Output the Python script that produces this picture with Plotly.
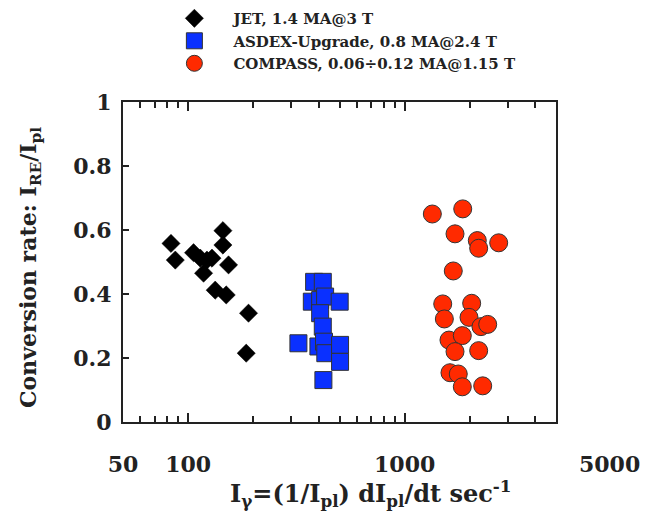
import plotly.graph_objects as go

# JET, 1.4 MA@3 T
jet_x = [83.3, 87.2, 105.9, 113.7, 122.1, 128.8, 117.8, 144.7, 144.7, 153.6, 133.3, 149.9, 190.0, 185.4]
jet_y = [0.558, 0.506, 0.529, 0.512, 0.506, 0.512, 0.465, 0.598, 0.553, 0.491, 0.412, 0.397, 0.340, 0.215]

# ASDEX-Upgrade, 0.8 MA@2.4 T
aug_x = [381.7, 418.6, 372.5, 407.0, 429.0, 501.0, 407.0, 418.6, 323.0, 399.6, 424.0, 430.0, 503.0, 503.0, 421.3]
aug_y = [0.438, 0.438, 0.376, 0.381, 0.392, 0.376, 0.340, 0.298, 0.246, 0.236, 0.251, 0.215, 0.241, 0.188, 0.131]

# COMPASS, 0.06÷0.12 MA@1.15 T
cmp_x = [1342, 1854, 1708, 2165, 2197, 2718, 1677, 1499, 2039, 1525, 1982, 2251, 2418,
         1602, 1846, 1708, 2197, 1619, 1768, 1846, 2293]
cmp_y = [0.650, 0.666, 0.588, 0.567, 0.543, 0.560, 0.472, 0.369, 0.371, 0.322, 0.327, 0.298, 0.305,
         0.256, 0.270, 0.220, 0.223, 0.154, 0.150, 0.110, 0.113]

x_tickvals = [50, 100, 1000, 5000]
x_ticktext = ["50", "100", "1000", "\u00a0" * 14 + "5000"]
x_minor = [60, 70, 80, 90, 200, 300, 400, 500, 600, 700, 800, 900, 2000, 3000, 4000]
y_tickvals = [0, 0.2, 0.4, 0.6, 0.8, 1]
y_ticktext = ["0", "0.2", "0.4", "0.6", "0.8", "1"]

x_title = "I<sub>γ</sub>=(1/I<sub>pl</sub>) dI<sub>pl</sub>/dt sec<sup>-1</sup>"
y_title = "Conversion rate: I<sub>RE</sub>/I<sub>pl</sub>"

FONT = "DejaVu Serif"
INK = "#222222"

fig = go.Figure()
fig.add_trace(go.Scatter(x=jet_x, y=jet_y, mode="markers", name="JET, 1.4 MA@3 T",
                         marker=dict(symbol="diamond", size=14, color="black",
                                     line=dict(color="black", width=0.5))))
fig.add_trace(go.Scatter(x=aug_x, y=aug_y, mode="markers", name="ASDEX-Upgrade, 0.8 MA@2.4 T",
                         marker=dict(symbol="square", size=17, color="#0a30ff",
                                     line=dict(color="#333333", width=1))))
fig.add_trace(go.Scatter(x=cmp_x, y=cmp_y, mode="markers", name="COMPASS, 0.06÷0.12 MA@1.15 T",
                         marker=dict(symbol="circle", size=18, color="#ff2a00",
                                     line=dict(color="#333333", width=1))))

fig.update_layout(
    width=657, height=513,
    margin=dict(l=123, r=101, t=102, b=91, autoexpand=False),
    paper_bgcolor="white", plot_bgcolor="white",
    font=dict(family=FONT, color=INK),
    showlegend=True,
    legend=dict(x=0.2365, xref="container", y=0.996, yref="container", yanchor="top", xanchor="left",
                font=dict(family=FONT, size=15, color=INK, weight="bold"),
                itemwidth=68, tracegroupgap=0, itemsizing="trace", bgcolor="rgba(0,0,0,0)"),
    xaxis=dict(type="log", range=[1.69897, 3.69897],
               tickvals=x_tickvals, ticktext=x_ticktext,
               ticks="inside", ticklen=9, tickwidth=1.5, tickcolor=INK,
               minor=dict(tickvals=x_minor, ticks="inside", ticklen=6, tickwidth=1.5, tickcolor=INK),
               showline=True, linecolor=INK, linewidth=2, mirror="ticks",
               showgrid=False, zeroline=False, ticklabelstandoff=22,
               tickfont=dict(family=FONT, size=22, weight="bold")),
    yaxis=dict(range=[0, 1], tickvals=y_tickvals, ticktext=y_ticktext,
               ticks="inside", ticklen=6, tickwidth=1.5, tickcolor=INK,
               showline=True, linecolor=INK, linewidth=2, mirror=True,
               showgrid=False, zeroline=False, ticklabelstandoff=5,
               tickfont=dict(family=FONT, size=22, weight="bold")),
    annotations=[
        dict(text=x_title, xref="paper", yref="paper", x=(370 - 123) / 433, y=-(493 - 422) / 320,
             xanchor="center", yanchor="middle", showarrow=False,
             font=dict(family=FONT, size=24, weight="bold", color=INK)),
        dict(text=y_title, xref="paper", yref="paper", x=-(123 - 30) / 433, y=(422 - 268) / 320,
             xanchor="center", yanchor="middle", showarrow=False, textangle=-90,
             font=dict(family=FONT, size=22, weight="bold", color=INK)),
    ],
)

fig.write_html("out.html")
